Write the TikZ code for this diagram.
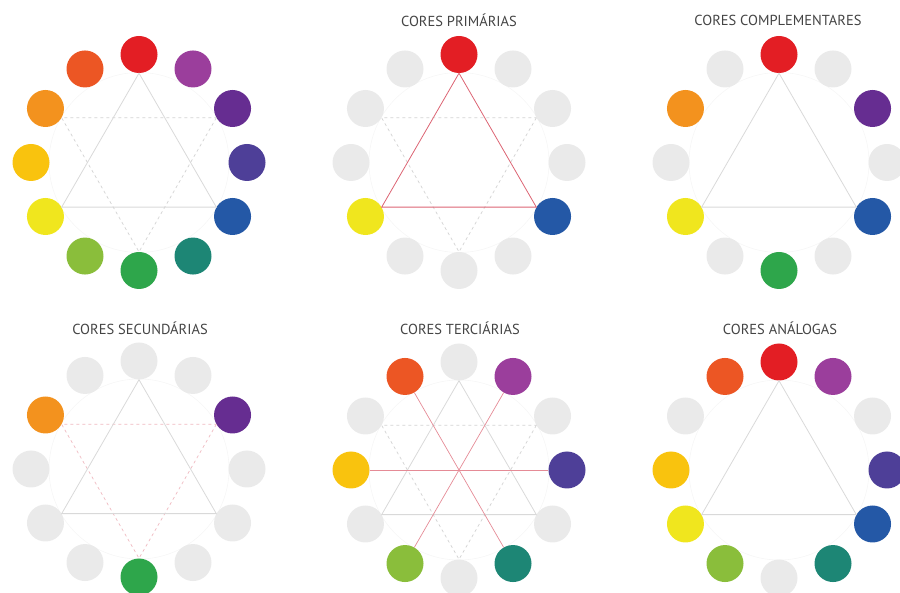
\documentclass[tikz,border=0pt]{standalone}
\usepackage{fontspec,xcolor,tikz}
\usetikzlibrary{calc}
\setmainfont{PT Sans}
\definecolor{vermelho}{RGB}{227,30,36}
\definecolor{roxoverm}{RGB}{155,62,156}
\definecolor{roxo}{RGB}{102,45,145}
\definecolor{azulroxo}{RGB}{78,63,152}
\definecolor{azul}{RGB}{36,88,166}
\definecolor{azulverde}{RGB}{29,134,117}
\definecolor{verde}{RGB}{46,166,75}
\definecolor{verdeamar}{RGB}{138,190,59}
\definecolor{amarelo}{RGB}{240,230,30}
\definecolor{amarelolar}{RGB}{249,195,14}
\definecolor{laranja}{RGB}{243,146,30}
\definecolor{larverm}{RGB}{236,86,36}
\definecolor{cz}{RGB}{234,234,234}
\definecolor{texto}{RGB}{68,68,68}
\definecolor{rosa}{RGB}{220,100,115}
% 12 discos, o primeiro no topo, sentido horario
\newcommand{\roda}[2]{%
  \foreach \c [count=\i, evaluate=\i as \a using 120-30*\i] in {#2}
    \node[disco,fill=\c] (#1-\i) at ($(#1)+(\a:108)$) {};}
\newcommand{\triangulo}[2]{\draw[#2] (#1-1.270) -- (#1-5.150) -- (#1-9.30) -- cycle;}
\newcommand{\invertido}[2]{\draw[#2] (#1-3.210) -- (#1-7.90) -- (#1-11.330) -- cycle;}

\begin{document}
\begin{tikzpicture}[x=1pt,y=1pt,
  disco/.style={circle,minimum size=37pt,inner sep=0pt,draw=none},
  tri/.style={gray!30,line width=0.8pt},
  tracej/.style={gray!35,dash pattern=on 3pt off 3pt,line width=0.7pt},
  anel/.style={gray!7,line width=0.6pt},
  titulo/.style={font=\fontsize{14.5}{16}\selectfont,text=texto}]
\useasboundingbox (0,0) rectangle (900,592);
\coordinate (r1) at (139,429.5);
\coordinate (r2) at (459,429.5);
\coordinate (r3) at (779,429.5);
\coordinate (r4) at (139,123);
\coordinate (r5) at (459,122);
\coordinate (r6) at (779,122);
\foreach \r in {r1,r2,r3,r4,r5,r6} \draw[anel] (\r) circle (90);

\roda{r1}{vermelho,roxoverm,roxo,azulroxo,azul,azulverde,verde,verdeamar,amarelo,amarelolar,laranja,larverm}
\roda{r2}{vermelho,cz,cz,cz,azul,cz,cz,cz,amarelo,cz,cz,cz}
\roda{r3}{vermelho,cz,roxo,cz,azul,cz,verde,cz,amarelo,cz,laranja,cz}
\roda{r4}{cz,cz,roxo,cz,cz,cz,verde,cz,cz,cz,laranja,cz}
\roda{r5}{cz,roxoverm,cz,azulroxo,cz,azulverde,cz,verdeamar,cz,amarelolar,cz,larverm}
\roda{r6}{vermelho,roxoverm,cz,azulroxo,azul,azulverde,cz,verdeamar,amarelo,amarelolar,cz,larverm}

\invertido{r1}{tracej}
\triangulo{r1}{tri}
\invertido{r2}{tracej}
\triangulo{r2}{rosa,line width=0.8pt}
\triangulo{r3}{tri}
\invertido{r4}{tracej,rosa!45}
\triangulo{r4}{tri}
\invertido{r5}{tracej}
\triangulo{r5}{tri}
\draw[rosa!75,line width=0.7pt] (r5-12.300) -- (r5-6.120);
\draw[rosa!75,line width=0.7pt] (r5-2.240) -- (r5-8.60);
\draw[rosa!75,line width=0.7pt] (r5-10.0) -- (r5-4.180);
\triangulo{r6}{tri}

\node[titulo] (t2) at (459,572) {CORES PRIMÁRIAS};
\node[titulo] (t3) at (778,572) {CORES COMPLEMENTARES};
\node[titulo] (t4) at (140,264) {CORES SECUNDÁRIAS};
\node[titulo] (t5) at (460,264) {CORES TERCIÁRIAS};
\node[titulo] (t6) at (780,264) {CORES ANÁLOGAS};
\end{tikzpicture}
\end{document}
